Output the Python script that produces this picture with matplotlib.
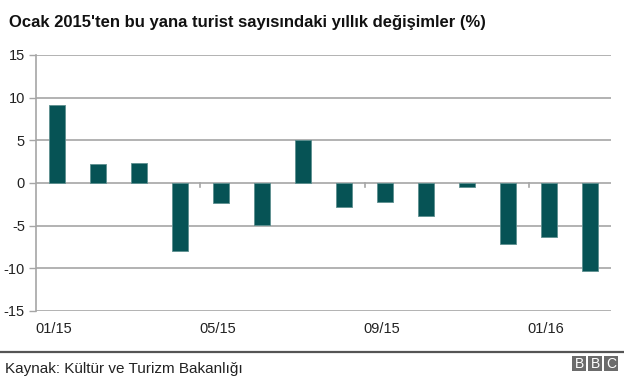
"""Annual change in tourist numbers since January 2015 (BBC style bar chart)."""

import matplotlib.pyplot as plt
import numpy as np
from matplotlib.lines import Line2D
from matplotlib.patches import Rectangle

plt.rcParams["font.family"] = ["Liberation Sans", "DejaVu Sans"]

months = ["01/15", "02/15", "03/15", "04/15", "05/15", "06/15", "07/15",
          "08/15", "09/15", "10/15", "11/15", "12/15", "01/16", "02/16"]
changes = [9.1, 2.2, 2.3, -8.0, -2.4, -4.9, 5.0,
           -2.8, -2.2, -3.9, -0.5, -7.2, -6.3, -10.3]
y_ticks = [-15, -10, -5, 0, 5, 10, 15]

title = "Ocak 2015'ten bu yana turist sayısındaki yıllık değişimler (%)"
source = "Kaynak: Kültür ve Turizm Bakanlığı"

bar_color = "#065355"
grid_color = "#a6a6a6"
text_color = "#222222"

W, H = 624, 389
fig = plt.figure(figsize=(W / 100, H / 100), dpi=100)
ax = fig.add_axes([36 / W, 78 / H, 575 / W, 256 / H])

x = np.arange(len(months))
ax.bar(x, changes, width=0.39, color=bar_color, edgecolor="#5d8f8f",
       linewidth=0.6, zorder=3)

ax.set_xlim(-0.5, len(months) - 0.5)
ax.set_ylim(y_ticks[0], y_ticks[-1])
ax.set_yticks(y_ticks)
ax.set_yticklabels([str(v) for v in y_ticks])
for v in y_ticks:
    ax.axhline(v, color=grid_color, linewidth=1.2, zorder=1)

# small boundary ticks on the zero line
for b in (3.5, 7.5, 11.5):
    ax.plot([b, b], [0, -0.45], color=grid_color, linewidth=1.2, zorder=2)

# every fourth month is labelled
ax.set_xticks(x[::4] - 0.08)
ax.set_xticklabels(months[::4])
ax.tick_params(axis="x", length=0, pad=8, labelsize=10.5, colors=text_color)
ax.tick_params(axis="y", length=5, width=1, color=grid_color, pad=3,
               labelsize=10.5, labelcolor=text_color)

for side in ("top", "right", "bottom"):
    ax.spines[side].set_visible(False)
ax.spines["left"].set_color(grid_color)
ax.spines["left"].set_linewidth(1.2)

fig.text(9 / W, 1 - 22 / H, title, fontsize=12, fontweight="bold",
         color="#111111", va="center", ha="left")

fig.add_artist(Line2D([0, 1], [1 - 352 / H] * 2, color="#555555",
                      linewidth=1.6, transform=fig.transFigure))
fig.text(5 / W, 1 - 369 / H, source, fontsize=11, color=text_color,
         va="center", ha="left")

for i, letter in enumerate("BBC"):
    x0 = (572 + i * 16) / W
    fig.add_artist(Rectangle((x0, 1 - 371 / H), 14 / W, 15 / H,
                             facecolor="#6b6b6b", edgecolor="none",
                             transform=fig.transFigure))
    fig.text(x0 + 7 / W, 1 - 363.5 / H, letter, fontsize=10, color="white",
             ha="center", va="center")

fig.savefig("out.png", dpi=100)
plt.close(fig)
